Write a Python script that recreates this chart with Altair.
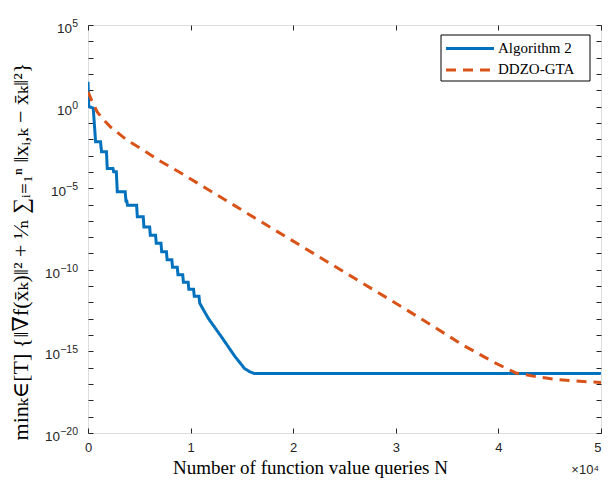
import altair as alt
import pandas as pd

# ---------------- data ----------------
series_names = ["Algorithm 2", "DDZO-GTA"]
series_colors = ["#0072BD", "#D95319"]
series_dashes = [[1, 0], [10, 7]]

# Algorithm 2: number of queries N and log10 of the measure
alg2_N = [0, 70, 510, 740, 1220, 1320, 1800, 1875, 2430, 2500, 2760, 2855,
          3625, 3700, 3780, 3846, 4740, 4808, 5385, 5450, 6010, 6075, 6587,
          6654, 7115, 7183, 7644, 7712, 8173, 8240, 8702, 8769, 9231, 9298,
          9760, 9827, 10288, 10356, 10817, 10885, 11731, 13010, 14298, 15260,
          15740, 16221, 50000]
alg2_log = [1.52, 0.0, -0.09, -2.16, -2.16, -2.77, -2.77, -3.79, -3.79, -3.99,
            -3.99, -5.22, -5.22, -5.79, -5.79, -6.04, -6.04, -6.75, -6.75,
            -7.37, -7.37, -7.88, -7.88, -8.38, -8.38, -8.89, -8.89, -9.38,
            -9.38, -9.84, -9.84, -10.30, -10.30, -10.76, -10.76, -11.19,
            -11.19, -11.62, -11.62, -12.04, -12.98, -14.11, -15.29, -16.05,
            -16.24, -16.36, -16.36]

# DDZO-GTA
ddzo_N = [0, 385, 894, 1538, 2183, 3779, 5385, 7144, 8846, 15577, 23269,
          30317, 33202, 36567, 39779, 41702, 43779, 45702, 47952, 50000]
ddzo_log = [0.91, 0.34, -0.32, -0.82, -1.24, -2.05, -2.66, -3.38, -3.99,
            -6.56, -9.49, -12.17, -13.29, -14.62, -15.74, -16.32, -16.56,
            -16.72, -16.83, -16.91]

x_tick_values = [0, 10000, 20000, 30000, 40000, 50000]
y_tick_exponents = list(range(-20, 6))
y_label_exponents = [5, 0, -5, -10, -15, -20]
y_label_exp_text = ["5", "0", "−5", "−10", "−15", "−20"]
x_multiplier = "×10⁴"
x_title = "Number of function value queries N"
y_title = "minₖ∈[T] {‖∇f(x̄ₖ)‖² + ¹⁄ₙ ∑ᵢ₌₁ⁿ ‖xᵢ,ₖ − x̄ₖ‖²}"

# ---------------- tables ----------------
rows = []
for i, (n, e) in enumerate(zip(alg2_N, alg2_log)):
    rows.append({"series": series_names[0], "N": n, "value": 10.0 ** e, "idx": i})
for i, (n, e) in enumerate(zip(ddzo_N, ddzo_log)):
    rows.append({"series": series_names[1], "N": n, "value": 10.0 ** e, "idx": i})
df = pd.DataFrame(rows)

ylab = pd.DataFrame({
    "value": [10.0 ** k for k in y_label_exponents],
    "base": ["10"] * len(y_label_exponents),
    "exp": y_label_exp_text,
})

SANS = "Liberation Sans, Arial, sans-serif"
SERIF = "Liberation Serif, DejaVu Serif, serif"
AX = "#262626"

W, H = 513, 408

x_scale = alt.Scale(domain=[0, 50000], nice=False, zero=False)
y_scale = alt.Scale(type="log", domain=[1e-20, 1e5], nice=False)
y_values = [10.0 ** k for k in y_tick_exponents]

color_enc = alt.Color("series:N", scale=alt.Scale(domain=series_names,
                      range=series_colors), legend=None)
dash_enc = alt.StrokeDash("series:N", scale=alt.Scale(domain=series_names,
                          range=series_dashes), legend=None)

lines = alt.Chart(df).mark_line(strokeWidth=3, clip=True).encode(
    x=alt.X("N:Q", scale=x_scale, axis=alt.Axis(
        orient="bottom", values=x_tick_values, labelExpr="datum.value / 10000",
        offset=-5, tickSize=5, domain=False, grid=False, labelFlush=False,
        labelAlign={"condition": {"test": "datum.value >= 50000",
                                  "value": "right"}, "value": "center"},
        labelPadding=8, labelFont=SANS, labelFontSize=13, labelColor=AX,
        tickColor=AX, title=x_title, titleFont=SERIF, titleFontSize=19,
        titleFontWeight="normal", titleColor="black", titleX=222, titleY=45,
        titleAlign="center", titleBaseline="alphabetic")),
    y=alt.Y("value:Q", scale=y_scale, axis=alt.Axis(
        orient="left", values=y_values, labels=False, offset=-5,
        tickSize=5, domain=False, grid=False, tickColor=AX,
        title=y_title, titleFont=SERIF, titleFontSize=22,
        titleFontWeight="normal", titleColor="black", titleAngle=270,
        titleX=-66, titleY=226, titleAlign="center",
        titleBaseline="alphabetic")),
    color=color_enc,
    strokeDash=dash_enc,
    order="idx:Q",
)

frame_ticks = alt.Chart(df).mark_line(opacity=0).encode(
    x=alt.X("N:Q", scale=x_scale, axis=alt.Axis(
        orient="top", values=x_tick_values, offset=-5, tickSize=5,
        domain=False, grid=False, labels=False, tickColor=AX, title=None)),
    y=alt.Y("value:Q", scale=y_scale, axis=alt.Axis(
        orient="right", values=y_values, offset=-5, tickSize=5,
        domain=False, grid=False, labels=False, tickColor=AX, title=None)),
    detail="series:N",
)

# y tick labels "10" with raised exponent
exp_labels = alt.Chart(ylab).mark_text(
    align="right", baseline="middle", font=SANS, fontSize=10.5, color=AX, dy=-1
).encode(x=alt.value(-10), y=alt.Y("value:Q", scale=y_scale, axis=None),
         text="exp:N")
base_labels = alt.Chart(ylab).transform_calculate(
    bx="-10 - length(datum.exp) * 6.0"
).mark_text(
    align="right", baseline="middle", font=SANS, fontSize=13.5, color=AX, dy=4
).encode(x=alt.X("bx:Q", scale=None),
         y=alt.Y("value:Q", scale=y_scale, axis=None), text="base:N")

mult = alt.Chart(pd.DataFrame({"t": [x_multiplier]})).mark_text(
    align="right", baseline="alphabetic", font=SANS, fontSize=13, color=AX
).encode(x=alt.value(W - 2), y=alt.value(449), text="t:N")

# legend box drawn by hand (top right, inside the plot)
LX0, LX1, LY0, LY1 = W - 160, W - 11, 10, 56
legend_layers = [
    alt.Chart(pd.DataFrame({"a": [0]})).mark_rect(
        fill="white", stroke="black", strokeWidth=1
    ).encode(x=alt.value(LX0), x2=alt.value(LX1), y=alt.value(LY0),
             y2=alt.value(LY1))
]
for i, (name, col, dash) in enumerate(zip(series_names, series_colors,
                                          series_dashes)):
    ry = LY0 + 13.5 + 21.5 * i
    legend_layers.append(
        alt.Chart(pd.DataFrame({"s": [name]})).mark_rule(
            color=col, strokeWidth=3, strokeDash=dash
        ).encode(x=alt.value(LX0 + 5), x2=alt.value(LX0 + 53),
                 y=alt.value(ry))
    )
    legend_layers.append(
        alt.Chart(pd.DataFrame({"s": [name]})).mark_text(
            align="left", baseline="middle", font=SERIF, fontSize=15,
            color="black", dy=-1
        ).encode(x=alt.value(LX0 + 57), y=alt.value(ry), text="s:N")
    )

chart = alt.layer(lines, frame_ticks, exp_labels, base_labels, mult,
                  *legend_layers).resolve_axis(
    x="independent", y="independent"
).properties(
    width=W, height=H,
    padding={"left": 80, "top": 17, "right": 1, "bottom": 46},
    autosize=alt.AutoSizeParams(type="none"),
).configure_view(stroke=AX, strokeWidth=1).configure(background="white")

chart.save("out.html", embed_options={"renderer": "svg", "actions": False})
